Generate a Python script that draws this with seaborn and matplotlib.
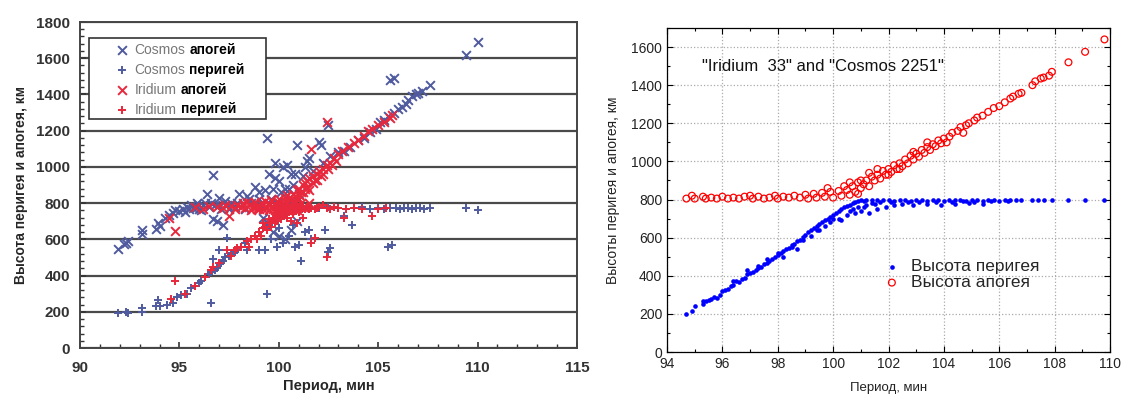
import numpy as np
import pandas as pd
import matplotlib as mpl
mpl.use("Agg")
import matplotlib.pyplot as plt
import seaborn as sns
from matplotlib.patches import Rectangle
from matplotlib.ticker import MultipleLocator, AutoMinorLocator

# ---- left panel: (period, height) ----
cosmos_apogee = [
    (91.9, 545), (92.2, 575), (92.4, 590), (92.3, 580), (93.1, 630), (93.1, 650), (93.8, 655),
    (93.9, 690), (94.0, 675), (94.3, 720), (94.5, 735), (94.7, 745), (94.8, 760), (95.0, 755),
    (95.2, 765), (95.3, 750), (95.5, 770), (95.6, 790), (95.7, 775), (95.9, 780), (96.0, 770),
    (96.2, 790), (96.3, 800), (96.4, 850), (96.5, 780), (96.7, 955), (96.7, 710), (96.8, 790),
    (96.9, 700), (97.0, 830), (97.1, 770), (97.2, 680), (97.3, 810), (97.4, 790), (97.6, 800),
    (97.8, 780), (98.0, 850), (98.2, 790), (98.4, 840), (98.6, 800), (98.8, 890), (99.0, 860),
    (99.1, 790), (99.3, 870), (99.4, 1160), (99.5, 960), (99.6, 820), (99.7, 880), (99.8, 940),
    (99.8, 1020), (99.9, 800), (100.0, 920), (100.1, 860), (100.2, 1000), (100.3, 880),
    (100.4, 1010), (100.5, 880), (100.6, 960), (100.7, 900), (100.9, 1120), (100.8, 960),
    (101.0, 850), (101.2, 950), (101.3, 1000), (101.4, 1030), (101.5, 1050), (101.7, 980),
    (102.0, 1140), (102.1, 1120), (102.2, 1020), (102.5, 1230), (102.6, 1060), (103.0, 1080),
    (103.3, 1090), (103.6, 1110), (104.0, 1150), (104.3, 1160), (104.6, 1190), (104.9, 1210),
    (105.1, 1250), (105.3, 1260), (105.6, 1480), (105.8, 1490), (105.5, 1280), (105.8, 1300),
    (106.0, 1320), (106.2, 1330), (106.4, 1350), (106.5, 1370), (106.7, 1390), (106.9, 1400),
    (107.0, 1410), (107.2, 1420), (107.6, 1450), (109.4, 1620), (110.0, 1690),
    (99.4, 690), (99.7, 640), (100.0, 620), (100.3, 600), (100.6, 650), (99.2, 720), (100.9, 700),
    (95.4, 780), (95.9, 800), (96.1, 760), (96.6, 800), (97.0, 790), (97.5, 770), (97.9, 800),
    (98.3, 770), (98.9, 790), (99.5, 800), (100.1, 780), (100.6, 810), (99.0, 820), (98.5, 820),
]
cosmos_perigee = [
    (91.9, 195), (92.3, 200), (92.4, 195), (93.1, 200), (93.1, 220), (93.8, 230), (93.9, 265),
    (94.0, 230), (94.4, 240), (94.7, 250), (94.9, 280), (95.1, 290), (95.4, 300), (95.6, 330),
    (95.8, 340), (96.0, 360), (96.1, 370), (96.3, 390), (96.5, 410), (96.6, 420), (96.7, 490),
    (96.6, 250), (96.8, 430), (96.9, 440), (97.0, 540), (97.1, 470), (97.2, 480), (97.3, 500),
    (97.4, 610), (97.5, 510), (97.6, 520), (97.8, 530), (97.9, 540), (98.1, 560), (98.3, 580),
    (98.4, 540), (98.6, 600), (98.8, 620), (99.0, 640), (99.0, 540), (99.2, 660), (99.3, 540),
    (99.4, 300), (99.5, 680), (99.6, 600), (99.8, 700), (99.9, 560), (100.0, 660), (100.1, 720),
    (100.2, 580), (100.3, 740), (100.5, 620), (100.7, 680), (100.8, 560), (101.0, 570),
    (101.1, 480), (101.3, 640), (101.5, 650), (101.6, 600), (101.8, 610), (102.3, 650),
    (102.5, 530), (102.6, 550), (103.3, 730), (103.7, 680), (105.5, 560), (105.7, 570),
    (101.0, 780), (101.5, 770), (102.0, 775), (102.5, 780), (103.0, 775), (103.4, 770),
    (103.8, 775), (104.2, 780), (104.6, 770), (105.0, 775), (105.3, 770), (105.6, 775),
    (105.9, 775), (106.1, 770), (106.3, 775), (106.5, 775), (106.7, 770), (106.9, 775),
    (107.1, 775), (107.3, 770), (107.6, 775), (109.4, 775), (110.0, 760),
]
iridium_apogee = [
    (94.5, 720), (94.8, 645), (95.8, 780), (96.2, 770), (96.5, 785), (96.9, 780), (97.2, 775),
    (97.5, 730), (97.6, 785), (97.9, 790), (98.1, 780), (98.3, 775), (98.5, 790), (98.7, 780),
    (98.9, 785), (99.0, 770), (99.2, 790), (99.3, 780), (99.4, 775), (99.5, 795), (99.6, 780),
    (99.7, 770), (99.8, 790), (99.9, 785), (100.0, 775), (100.0, 800), (100.1, 790), (100.2, 780),
    (100.3, 810), (100.4, 800), (100.5, 830), (100.5, 790), (100.6, 820), (100.7, 850),
    (100.8, 840), (100.9, 870), (101.0, 880), (101.1, 860), (101.2, 900), (101.3, 910),
    (101.4, 920), (101.5, 940), (101.6, 1100), (101.7, 950), (101.9, 960), (102.0, 980),
    (102.2, 990), (102.4, 1250), (102.4, 1010), (102.6, 1020), (102.8, 1050), (103.0, 1070),
    (103.2, 1090), (103.5, 1110), (103.8, 1130), (104.0, 1150), (104.3, 1170), (104.5, 1200),
    (104.7, 1210), (105.0, 1230), (105.3, 1250), (105.6, 1270), (105.7, 1285),
    (98.6, 760), (99.1, 800), (99.5, 760), (99.9, 810), (100.2, 760), (100.6, 770), (100.9, 790),
    (101.1, 800), (100.3, 830), (100.8, 810), (101.3, 880), (101.8, 930), (102.1, 950),
    (98.2, 800), (98.8, 805), (99.3, 810), (99.6, 815), (99.8, 760), (100.0, 825), (100.1, 750),
    (100.4, 845), (100.5, 755), (100.7, 800), (100.8, 760), (101.0, 820), (101.0, 845),
    (101.2, 860), (101.4, 890), (101.5, 870), (101.7, 910), (101.9, 925), (102.2, 960),
    (102.5, 990), (102.7, 1010), (102.9, 1030), (99.2, 765), (98.9, 765), (97.8, 770),
    (98.4, 805), (97.3, 790), (100.3, 770), (100.9, 760), (101.2, 780), (101.5, 800),
]
iridium_perigee = [
    (94.6, 270), (94.8, 370), (95.3, 300), (95.8, 340), (96.3, 390), (96.6, 430), (96.7, 450),
    (97.0, 470), (97.4, 540), (97.6, 510), (97.9, 550), (98.1, 560), (98.4, 590), (98.6, 600),
    (98.8, 620), (99.0, 640), (99.2, 660), (99.3, 670), (99.5, 690), (99.6, 700), (99.7, 710),
    (99.8, 720), (99.9, 730), (100.0, 740), (100.1, 750), (100.2, 755), (100.3, 760),
    (100.4, 770), (100.5, 775), (100.6, 780), (100.7, 770), (100.8, 775), (100.9, 780),
    (101.0, 770), (101.2, 775), (101.4, 780), (101.6, 775), (101.8, 770), (102.0, 780),
    (102.2, 790), (102.4, 775), (102.6, 770), (102.8, 780), (103.0, 775), (103.3, 720),
    (103.4, 770), (103.8, 775), (104.2, 770), (104.7, 730), (105.0, 770), (105.4, 775),
    (101.6, 580), (101.8, 610), (102.4, 500), (100.6, 700), (101.2, 720), (100.9, 690),
    (98.5, 560), (97.8, 540), (99.8, 690), (100.4, 720), (100.7, 740), (101.0, 750),
    (98.9, 600), (99.1, 620), (99.4, 650), (99.6, 670), (99.9, 700), (100.1, 715), (100.2, 730),
    (100.4, 745), (100.5, 750), (100.7, 760), (100.9, 765), (101.1, 780), (101.3, 770),
    (101.5, 765), (101.9, 775), (99.2, 690), (99.5, 710), (99.9, 745), (100.3, 790),
]

# ---- right panel ----
perigee = [
    (94.7, 200), (94.9, 215), (95.0, 240), (95.3, 250), (95.3, 265), (95.4, 270), (95.5, 275),
    (95.6, 280), (95.7, 290), (95.8, 285), (95.9, 300), (96.0, 320), (96.1, 325), (96.2, 330),
    (96.3, 345), (96.4, 350), (96.5, 370), (96.6, 365), (96.7, 385), (96.8, 390), (96.9, 410),
    (97.0, 415), (97.1, 420), (97.2, 430), (97.3, 440), (97.4, 445), (97.5, 460), (97.6, 465),
    (97.7, 480), (97.8, 490), (97.9, 500), (98.0, 510), (98.1, 520), (98.2, 530), (98.3, 540),
    (98.4, 545), (98.5, 560), (98.6, 565), (98.7, 580), (98.8, 590), (98.9, 605), (99.0, 615),
    (99.1, 630), (99.2, 640), (99.3, 650), (99.4, 660), (99.5, 670), (99.6, 680), (99.7, 690),
    (99.8, 700), (99.9, 710), (100.0, 720), (100.1, 730), (100.2, 740), (100.3, 750),
    (100.4, 760), (100.5, 765), (100.6, 770), (100.7, 780), (100.8, 785), (100.9, 790),
    (101.0, 795), (101.1, 790), (101.2, 800), (101.4, 795), (101.6, 800), (101.8, 795),
    (102.0, 800), (102.2, 790), (102.4, 795), (102.6, 800), (102.8, 790), (103.0, 800),
    (103.2, 795), (103.4, 790), (103.6, 800), (103.8, 795), (104.0, 790), (104.2, 800),
    (104.4, 795), (104.6, 800), (104.8, 790), (105.0, 795), (105.2, 800), (105.4, 790),
    (105.6, 795), (105.8, 800), (106.0, 790), (106.2, 795), (106.4, 800), (106.6, 795),
    (106.8, 800), (107.2, 800), (107.4, 795), (107.6, 800), (107.9, 800), (108.5, 795),
    (109.1, 800), (109.8, 800),
    (98.2, 500), (98.7, 540), (99.2, 610), (99.5, 640), (99.9, 680), (100.2, 700), (100.5, 720),
    (100.8, 730), (101.0, 740), (101.3, 730), (101.6, 750), (101.9, 760), (102.2, 770),
    (102.5, 775), (102.9, 770), (103.4, 775), (103.9, 770), (104.4, 775), (104.9, 780),
    (105.4, 775), (100.6, 740), (101.1, 760), (101.5, 775), (99.7, 660), (100.3, 690),
    (100.0, 700), (98.5, 550), (97.6, 490), (96.9, 430), (96.4, 370),
    (100.7, 750), (100.9, 760), (101.2, 770), (101.4, 780), (101.7, 785), (102.1, 785),
    (102.7, 785), (103.1, 785), (103.7, 785), (104.3, 785), (104.7, 790), (105.1, 785),
    (105.7, 790), (106.3, 790), (99.4, 640), (98.9, 590), (98.0, 520), (97.3, 450),
]
apogee = [
    (94.7, 805), (94.9, 820), (95.0, 805), (95.3, 815), (95.4, 805), (95.6, 810), (95.8, 805),
    (96.0, 815), (96.2, 805), (96.4, 810), (96.6, 805), (96.8, 815), (97.0, 820), (97.1, 805),
    (97.3, 815), (97.5, 805), (97.7, 810), (97.9, 820), (98.0, 805), (98.2, 815), (98.4, 810),
    (98.6, 820), (98.8, 810), (99.0, 825), (99.1, 805), (99.3, 830), (99.4, 810), (99.6, 835),
    (99.7, 815), (99.9, 840), (100.0, 810), (100.2, 845), (100.3, 820), (100.5, 850),
    (100.6, 825), (100.7, 870), (100.8, 840), (100.9, 890), (101.0, 860), (101.1, 880),
    (101.2, 900), (101.3, 870), (101.4, 920), (101.5, 900), (101.6, 930), (101.7, 910),
    (101.8, 950), (101.9, 930), (102.0, 960), (102.1, 945), (102.2, 980), (102.3, 960),
    (102.4, 990), (102.5, 975), (102.6, 1010), (102.7, 990), (102.8, 1030), (102.9, 1010),
    (103.0, 1040), (103.1, 1025), (103.2, 1060), (103.3, 1045), (103.4, 1075), (103.5, 1060),
    (103.6, 1090), (103.7, 1080), (103.8, 1110), (103.9, 1095), (104.0, 1120), (104.2, 1130),
    (104.3, 1150), (104.5, 1160), (104.6, 1180), (104.8, 1190), (104.9, 1200), (105.1, 1215),
    (105.2, 1230), (105.4, 1240), (105.6, 1260), (105.8, 1280), (106.0, 1290), (106.2, 1310),
    (106.4, 1330), (106.5, 1340), (106.7, 1355), (106.8, 1360), (107.2, 1400), (107.3, 1420),
    (107.5, 1435), (107.6, 1440), (107.8, 1450), (107.9, 1470), (108.5, 1520), (109.1, 1575),
    (109.8, 1640),
    (99.8, 860), (100.4, 870), (100.9, 830), (101.0, 900), (101.3, 940), (100.6, 890),
    (101.6, 960), (102.0, 930), (102.4, 960), (102.9, 1050), (103.4, 1100), (104.1, 1100),
    (104.7, 1150),
]

def frame(pairs):
    return pd.DataFrame(pairs, columns=["period", "height"])

sns.set_style("white")
plt.rcParams["font.family"] = ["Liberation Sans", "DejaVu Sans"]

W, H = 1122, 394
fig = plt.figure(figsize=(W / 100, H / 100), dpi=100)

# ================= left panel =================
ax1 = fig.add_axes([80 / W, 1 - 348 / H, 497 / W, 326 / H])
blue1 = "#4f5b9e"
red1 = "#e8283c"

for pairs, mk, col, lab in [
    (cosmos_apogee, "x", blue1, "Cosmos"),
    (cosmos_perigee, "+", blue1, "Cosmos"),
    (iridium_apogee, "x", red1, "Iridium"),
    (iridium_perigee, "+", red1, "Iridium"),
]:
    sns.scatterplot(data=frame(pairs), x="period", y="height", ax=ax1, marker=mk,
                    color=col, s=40, linewidth=1.4, label=lab, zorder=3)

ax1.set_xlim(90, 115)
ax1.set_ylim(0, 1800)
ax1.xaxis.set_major_locator(MultipleLocator(5))
ax1.xaxis.set_minor_locator(MultipleLocator(1))
ax1.yaxis.set_major_locator(MultipleLocator(200))
ax1.yaxis.set_minor_locator(AutoMinorLocator(5))
ax1.yaxis.grid(True, color="#4a4a4a", lw=1.6)
ax1.set_axisbelow(True)
ax1.tick_params(which="both", direction="in", color="#333333", left=True, bottom=True)
ax1.tick_params(which="major", length=4, width=1.2)
ax1.tick_params(which="minor", length=3, width=1.0)
ax1.tick_params(axis="x", pad=9)
ax1.tick_params(axis="y", pad=7)
for lbl in ax1.get_xticklabels() + ax1.get_yticklabels():
    lbl.set_fontweight("bold")
    lbl.set_fontsize(11)
    lbl.set_color("#333333")
for sp in ax1.spines.values():
    sp.set_color("#444444")
    sp.set_linewidth(1.4)
ax1.set_xlabel("Период, мин", fontsize=10.5, fontweight="bold", labelpad=3)
ax1.set_ylabel("Высота перигея и апогея, км", fontsize=10, fontweight="bold", labelpad=6)

ax1.add_patch(Rectangle((9 / 497, 229 / 326), 177 / 497, 81 / 326,
                        transform=ax1.transAxes, facecolor="white", edgecolor="#333333",
                        lw=1.2, zorder=4))
leg1 = ax1.legend(loc="upper left", bbox_to_anchor=(31 / 497, 1 - 21 / 326), frameon=False,
                  borderpad=0, borderaxespad=0, handlelength=1.6, handletextpad=0.1,
                  labelspacing=0.42, fontsize=10, scatterpoints=1)
leg1.set_zorder(5)
for t in leg1.get_texts():
    t.set_color("#777777")

# ================= right panel =================
ax2 = fig.add_axes([667 / W, 1 - 352 / H, 443 / W, 324 / H])
sns.scatterplot(data=frame(perigee), x="period", y="height", ax=ax2, marker="o",
                color="#0000ff", s=11, linewidth=0, label="Высота перигея", zorder=3)
sns.scatterplot(data=frame(apogee), x="period", y="height", ax=ax2, marker="o",
                color="#ff0000", facecolor="none", edgecolor="#ff0000", s=24,
                linewidth=0.9, label="Высота апогея", zorder=3)
ax2.set_xlim(94, 110)
ax2.set_ylim(0, 1700)
ax2.xaxis.set_major_locator(MultipleLocator(2))
ax2.xaxis.set_minor_locator(MultipleLocator(1))
ax2.yaxis.set_major_locator(MultipleLocator(200))
ax2.yaxis.set_minor_locator(MultipleLocator(100))
ax2.grid(True, which="major", ls=":", color="#aaaaaa", lw=0.9)
ax2.set_axisbelow(True)
ax2.tick_params(which="both", direction="in", top=True, right=True, left=True, bottom=True,
                color="black", labelsize=10, labelcolor="#222222")
ax2.tick_params(which="major", length=4, width=0.8)
ax2.tick_params(which="minor", length=2.5, width=0.8)
for sp in ax2.spines.values():
    sp.set_color("black")
    sp.set_linewidth(0.9)
ax2.set_xlabel("Период, мин", fontsize=9.5, color="#222222", labelpad=8)
ax2.set_ylabel("Высоты перигея и апогея, км", fontsize=10, color="#222222", labelpad=8)
ax2.text(0.079, 0.88, '"Iridium  33" and "Cosmos 2251"', transform=ax2.transAxes,
         fontsize=12, va="center", ha="left", color="#111111")
ax2.legend(loc="center left", bbox_to_anchor=(0.488, 0.239), frameon=False, fontsize=12.5,
           handlelength=1.0, handletextpad=0.6, labelspacing=0.05, borderpad=0,
           borderaxespad=0, scatterpoints=1, markerscale=1.0)

# bold second word of the left legend entries
fig.canvas.draw()
words = ["апогей", "перигей", "апогей", "перигей"]
for t, w in zip(leg1.get_texts(), words):
    bb = t.get_window_extent()
    fig.text((bb.x1 + 4) / W, bb.y0 / H, w, fontsize=10, fontweight="bold",
             color="black", va="bottom", ha="left", zorder=6)

fig.savefig("out.png", dpi=100)
